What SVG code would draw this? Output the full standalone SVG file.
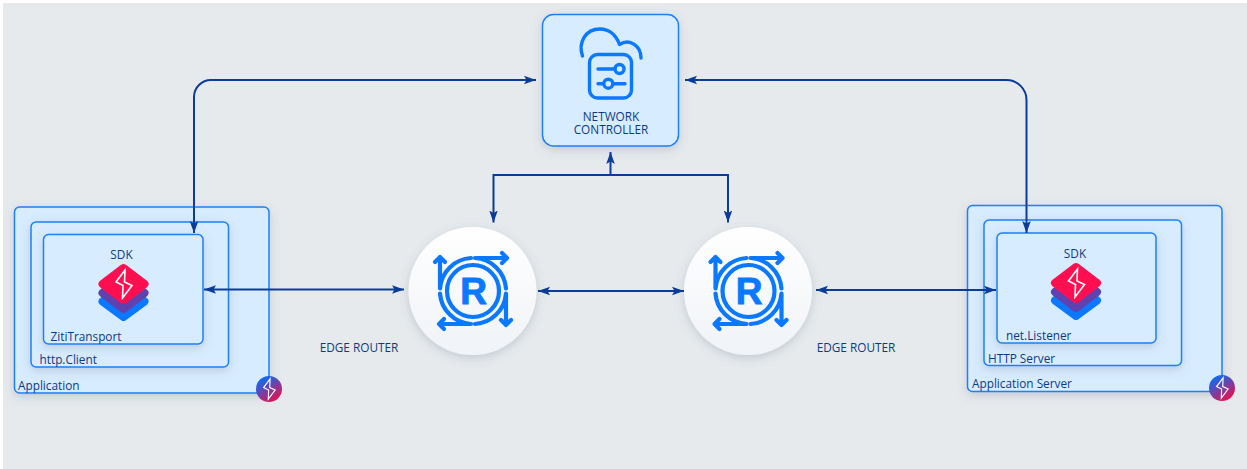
<svg xmlns="http://www.w3.org/2000/svg" xmlns:xlink="http://www.w3.org/1999/xlink" width="1247" height="469" viewBox="0 0 1247 469">
<style>
.box{fill:#d8ecff;stroke:#1a80fa;stroke-width:1.5}
.shadow{filter:url(#sh)}
text{font-family:"Open Sans","Noto Sans","Liberation Sans",sans-serif;font-size:11.8px;fill:#0b3a86}
.link{fill:none;stroke:#0a3c98;stroke-width:2;marker-start:url(#ah);marker-end:url(#ah)}
.one{marker-start:none}
.ic{fill:none;stroke:#0a78ff;stroke-width:3.4;stroke-linecap:round;stroke-linejoin:round}
.rr{stroke-width:4.2}
.rl{font-family:"Liberation Sans",Arial,sans-serif;font-weight:700;font-size:37px;fill:#0a78ff;stroke:#0a78ff;stroke-width:.9}
</style>
<defs>
<filter id="sh" x="-15%" y="-15%" width="130%" height="135%"><feDropShadow dx="0" dy="3" stdDeviation="5" flood-color="#5a6a80" flood-opacity="0.25"/></filter>
<marker id="ah" markerUnits="userSpaceOnUse" markerWidth="14" markerHeight="11" refX="12" refY="5.5" orient="auto-start-reverse"><path d="M0,1.2 L12,5.5 L0,9.8 L2.5,5.5 Z" fill="#0a3c98"/></marker>
<linearGradient id="rg" x1="0" y1="0" x2="0" y2="1"><stop offset="0" stop-color="#ffffff"/><stop offset="1" stop-color="#f0f3f7"/></linearGradient>
<linearGradient id="bg" x1="0.2" y1="0.1" x2="0.75" y2="0.95"><stop offset="0" stop-color="#0a6cf5"/><stop offset="1" stop-color="#e8104f"/></linearGradient>
<path id="bolt" d="M1.5,-14 L-7.5,-2 L-0.5,1.5 L-1,14 L8.5,1.5 L1,-2 Z" fill="none" stroke="#fff" stroke-width="1.6" stroke-linejoin="miter"/>
<g id="sdk">
<path d="M0,1 L21,17.5 L0,33 L-21,17.5 Z" fill="#0a78ff" stroke="#0a78ff" stroke-width="8" stroke-linejoin="round"/>
<path d="M0,-7.5 L21,9 L0,25 L-21,9 Z" fill="#6041b0" stroke="#6041b0" stroke-width="8" stroke-linejoin="round"/>
<path d="M0,-16 L21,0 L0,16 L-21,0 Z" fill="#ff0f4f" stroke="#ff0f4f" stroke-width="8" stroke-linejoin="round"/>
<use href="#bolt"/>
</g>
<g id="badge"><circle r="13" fill="url(#bg)"/><use href="#bolt" transform="scale(.72)"/></g>
<g id="rico">
<g class="ic rr">
<circle cx="0" cy="0" r="26"/>
<path d="M2,-33 H34 M29,-38 L34,-33 L29,-28 M2,-33 A33,33 0 0 1 33,-2.5"/>
<path d="M33,2.5 V34 M38,29 L33,34 L28,29 M33,2.5 A33,33 0 0 1 2,33"/>
<path d="M-2,33 H-34 M-29,38 L-34,33 L-29,28 M-2,33 A33,33 0 0 1 -33,2.5"/>
<path d="M-33,-2.5 V-34 M-38,-29 L-33,-34 L-28,-29 M-33,-2.5 A33,33 0 0 1 -2,-33"/>
</g>
</g>
</defs>
<rect width="1247" height="469" fill="#fff"/>
<rect x="3" y="3" width="1244" height="466" fill="#e6eaed"/>

<g id="application">
<rect class="box shadow" x="14.5" y="207" width="254.5" height="186" rx="5"/>
<text x="18" y="389.5">Application</text>
</g>
<g id="http-client">
<rect class="box shadow" x="31" y="222" width="197.5" height="145" rx="5"/>
<text x="39.5" y="363.5">http.Client</text>
</g>
<g id="ziti-transport">
<rect class="box shadow" x="43.5" y="234.5" width="159.5" height="109.5" rx="5"/>
<text x="121.5" y="259" text-anchor="middle">SDK</text>
<use href="#sdk" x="123.5" y="284"/>
<text x="50.5" y="341">ZitiTransport</text>
</g>
<g id="application-badge"><use href="#badge" x="269" y="389"/></g>

<g id="application-server">
<rect class="box shadow" x="967.5" y="205.5" width="254.5" height="186" rx="5"/>
<text x="972" y="387.5">Application Server</text>
</g>
<g id="http-server">
<rect class="box shadow" x="984" y="220" width="197.5" height="145.5" rx="5"/>
<text x="988" y="362.5">HTTP Server</text>
</g>
<g id="net-listener">
<rect class="box shadow" x="997" y="233" width="159" height="110" rx="5"/>
<text x="1075" y="257.5" text-anchor="middle">SDK</text>
<use href="#sdk" x="1076" y="283"/>
<text x="1006" y="339.5">net.Listener</text>
</g>
<g id="server-badge"><use href="#badge" x="1222" y="388"/></g>

<g id="network-controller">
<rect class="box shadow" x="542.5" y="14.5" width="136" height="131.5" rx="11"/>
<path class="ic" d="M582.5,56 C578,43 585,29 600,29 C609,29 616,35 619.5,44.5 C630,38 641,46 641,58"/>
<rect class="ic" x="589.5" y="54.5" width="42" height="43.5" rx="8"/>
<path class="ic" d="M598,69 H615 M598,83.7 H603.5 M613,83.7 H625"/>
<circle class="ic" cx="619.5" cy="69" r="4.5"/>
<circle class="ic" cx="608.3" cy="83.7" r="4.5"/>
<text text-anchor="middle"><tspan x="611" y="120.5">NETWORK</tspan><tspan x="611" y="134">CONTROLLER</tspan></text>
</g>

<g id="edge-router-1">
<circle class="shadow" cx="472.5" cy="291" r="64" fill="url(#rg)"/>
<use href="#rico" x="473" y="291"/>
<text class="rl" x="473.5" y="304" text-anchor="middle">R</text>
<text x="359" y="352" text-anchor="middle">EDGE ROUTER</text>
</g>
<g id="edge-router-2">
<circle class="shadow" cx="748" cy="291" r="64" fill="url(#rg)"/>
<use href="#rico" x="748.5" y="291"/>
<text class="rl" x="749" y="304" text-anchor="middle">R</text>
<text x="856" y="352" text-anchor="middle">EDGE ROUTER</text>
</g>

<g id="connectors">
<path class="link" d="M194,233 V97 A17,17 0 0 1 211,80 H536"/>
<path class="link" d="M1026.5,233 V100 A20,20 0 0 0 1006.5,80 H685"/>
<path class="link one" d="M610.5,175 V152"/>
<path class="link" d="M493.5,222.5 V175 H728 V222.5"/>
<path class="link" d="M204,289.5 H404"/>
<path class="link" d="M538,291 H684"/>
<path class="link" d="M816,290 H996"/>
</g>
</svg>
